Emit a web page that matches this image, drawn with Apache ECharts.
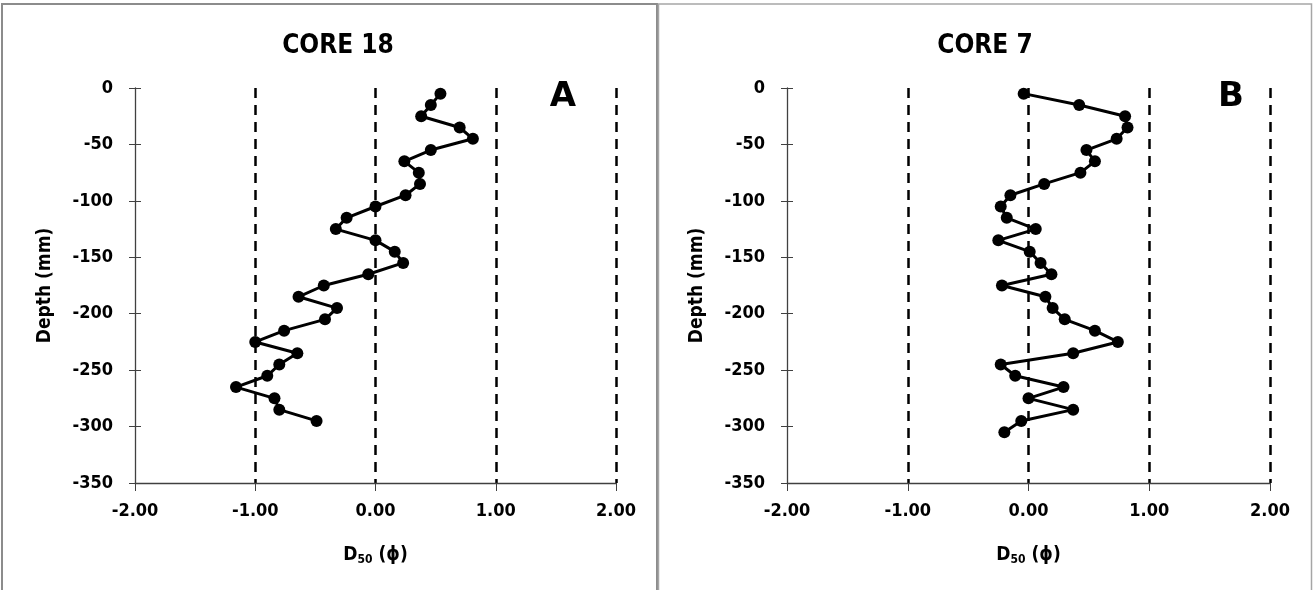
<!DOCTYPE html>
<html>
<head>
<meta charset="utf-8">
<script src="https://cdn.jsdelivr.net/npm/echarts@6/dist/echarts.min.js"></script>
<style>
  html, body { margin: 0; padding: 0; background: #fff; }
  #chart { width: 1315px; height: 590px; }
</style>
</head>
<body>
<div id="chart"></div>
<script>
// depth of each sample (mm)
const depth18 = [-5, -15, -25, -35, -45, -55, -65, -75, -85, -95, -105, -115, -125, -135, -145, -155,
  -165, -175, -185, -195, -205, -215, -225, -235, -245, -255, -265, -275, -285, -295];
const d50Core18 = [0.54, 0.46, 0.38, 0.70, 0.81, 0.46, 0.24, 0.36, 0.37, 0.25, 0.00, -0.24, -0.33, 0.00, 0.16, 0.23,
  -0.06, -0.43, -0.64, -0.32, -0.42, -0.76, -1.00, -0.65, -0.80, -0.90, -1.16, -0.84, -0.80, -0.49];

const depth7 = [-5, -15, -25, -35, -45, -55, -65, -75, -85, -95, -105, -115, -125, -135, -145, -155,
  -165, -175, -185, -195, -205, -215, -225, -235, -245, -255, -265, -275, -285, -295, -305];
const d50Core7 = [-0.04, 0.42, 0.80, 0.82, 0.73, 0.48, 0.55, 0.43, 0.13, -0.15, -0.23, -0.18, 0.06, -0.25, 0.01, 0.10,
  0.19, -0.22, 0.14, 0.20, 0.30, 0.55, 0.74, 0.37, -0.23, -0.11, 0.29, 0.00, 0.37, -0.06, -0.20];

const titles = ['CORE 18', 'CORE 7'];
const panelTags = ['A', 'B'];

const FONT = '"Liberation Sans Narrow", "DejaVu Sans Condensed", "Open Sans", sans-serif';
const AXIS_GRAY = '#404040';

const chart = echarts.init(document.getElementById('chart'));

const grids = [
  { left: 135, right: 699, top: 88, bottom: 107 },
  { left: 787, right: 45, top: 88, bottom: 107 }
];

const xAxes = grids.map((g, i) => ({
  type: 'value',
  gridIndex: i,
  position: 'bottom',
  min: -2,
  max: 2,
  interval: 1,
  name: '{d|D}{s|50}{d| (ϕ)}',
  nameLocation: 'middle',
  nameGap: 62,
  nameTextStyle: {
    rich: {
      d: { fontFamily: FONT, fontWeight: 'bold', fontSize: 19, color: '#000' },
      s: { fontFamily: FONT, fontWeight: 'bold', fontSize: 12, color: '#000', verticalAlign: 'bottom', padding: [9, 0, 0, 0] }
    }
  },
  axisLine: { show: true, onZero: false, lineStyle: { color: AXIS_GRAY, width: 1.3 } },
  axisTick: { show: true, length: 8, lineStyle: { color: AXIS_GRAY } },
  axisLabel: {
    margin: 19,
    fontFamily: FONT, fontWeight: 'bold', fontSize: 18, color: '#000',
    formatter: v => v.toFixed(2)
  },
  splitLine: {
    show: true,
    lineStyle: { color: ['rgba(0,0,0,0)', '#000', '#000', '#000', '#000'], width: 2.5, type: [10, 7] }
  }
}));

const yAxes = [];
grids.forEach((g, i) => {
  yAxes.push({
    type: 'value',
    gridIndex: i,
    position: 'left',
    min: -350,
    max: 0,
    interval: 50,
    name: 'Depth (mm)',
    nameLocation: 'middle',
    nameGap: 80,
    nameTextStyle: { fontFamily: FONT, fontWeight: 'bold', fontSize: 19, color: '#000' },
    axisLine: { show: true, onZero: false, lineStyle: { color: AXIS_GRAY, width: 1.3 } },
    axisTick: { show: true, length: 6, lineStyle: { color: AXIS_GRAY } },
    axisLabel: { margin: 22, fontFamily: FONT, fontWeight: 'bold', fontSize: 18, color: '#000' },
    splitLine: { show: false }
  });
  // inner half of the cross ticks
  yAxes.push({
    type: 'value',
    gridIndex: i,
    position: 'left',
    offset: 0,
    min: -350,
    max: 0,
    interval: 50,
    axisLine: { show: false, onZero: false },
    axisTick: { show: true, inside: true, length: 6, lineStyle: { color: AXIS_GRAY } },
    axisLabel: { show: false },
    splitLine: { show: false }
  });
});

const makeSeries = (xs, ys, i) => ({
  type: 'line',
  xAxisIndex: i,
  yAxisIndex: i * 2,
  data: xs.map((v, k) => [v, ys[k]]),
  symbol: 'circle',
  symbolSize: 12,
  itemStyle: { color: '#000' },
  lineStyle: { color: '#000', width: 3 },
  animation: false
});

const option = {
  animation: false,
  title: [
    { text: titles[0], left: 333, top: 28, textAlign: 'center',
      textStyle: { fontFamily: FONT, fontWeight: 'bold', fontSize: 26, color: '#000' } },
    { text: titles[1], left: 980, top: 28, textAlign: 'center',
      textStyle: { fontFamily: FONT, fontWeight: 'bold', fontSize: 26, color: '#000' } },
    { text: panelTags[0], left: 558, top: 75, textAlign: 'center',
      textStyle: { fontFamily: '"DejaVu Sans", sans-serif', fontWeight: 'bold', fontSize: 34, color: '#000' } },
    { text: panelTags[1], left: 1226, top: 75, textAlign: 'center',
      textStyle: { fontFamily: '"DejaVu Sans", sans-serif', fontWeight: 'bold', fontSize: 34, color: '#000' } }
  ],
  graphic: [
    { type: 'rect', shape: { x: 2, y: 4, width: 655, height: 590 }, style: { fill: 'none', stroke: '#8c8c8c', lineWidth: 2 }, silent: true },
    { type: 'rect', shape: { x: 658.5, y: 4, width: 653, height: 590 }, style: { fill: 'none', stroke: '#a6a6a6', lineWidth: 1.5 }, silent: true }
  ],
  grid: grids,
  xAxis: xAxes,
  yAxis: yAxes,
  series: [
    makeSeries(d50Core18, depth18, 0),
    makeSeries(d50Core7, depth7, 1)
  ]
};

chart.setOption(option);
</script>
</body>
</html>
